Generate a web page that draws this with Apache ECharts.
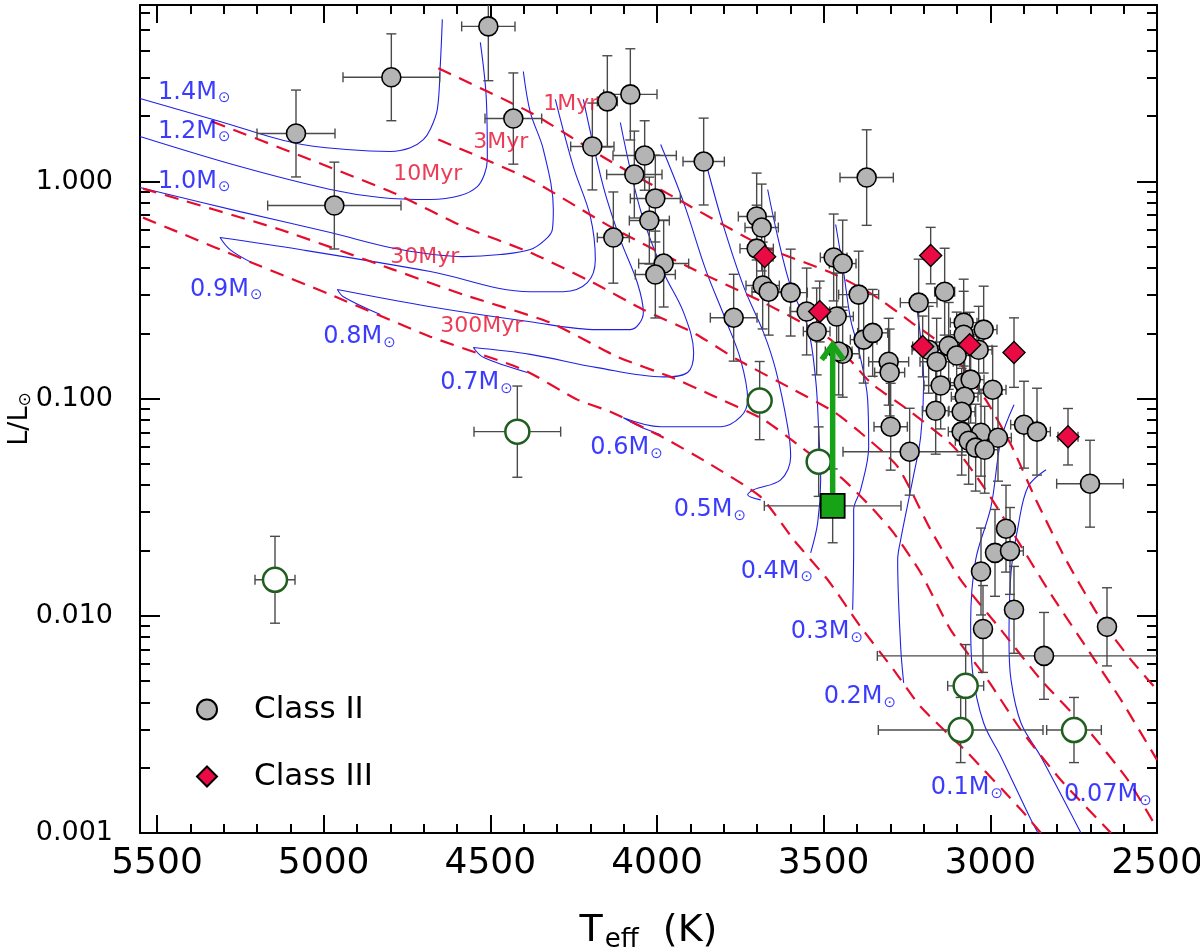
<!DOCTYPE html>
<html>
<head>
<meta charset="utf-8">
<script src="https://cdn.jsdelivr.net/npm/echarts@6/dist/echarts.min.js"></script>
<style>html,body{margin:0;padding:0;background:#fff}#c{width:1200px;height:951px}</style>
</head>
<body>
<div id="c"></div>
<script>
// ---------- axis ticks ----------
const xMajorTicks = [2500, 3000, 3500, 4000, 4500, 5000, 5500];
const xMinorTicks = [2600,2700,2800,2900,3100,3200,3300,3400,3600,3700,3800,3900,4100,4200,4300,4400,4600,4700,4800,4900,5100,5200,5300,5400];
const yMajorTicks = [0.001, 0.01, 0.1, 1];
const yMinorTicks = [0.002,0.003,0.004,0.005,0.006,0.007,0.008,0.009,0.02,0.03,0.04,0.05,0.06,0.07,0.08,0.09,0.2,0.3,0.4,0.5,0.6,0.7,0.8,0.9,2,3,4,5,6];

// ---------- evolutionary tracks [Teff, L/Lsun] ----------
const trackM140 = [[4644,5.58],[4650,3.46],[4659,2.15],[4680,1.74],[4701,1.56],[4740,1.43],[4800,1.375],[4920,1.40],[5092,1.51],[5311,1.89],[5551,2.41]];
const trackM120 = [[4530,4.37],[4512,2.39],[4509,1.263],[4518,1.077],[4539,0.948],[4590,0.862],[4680,0.826],[4830,0.844],[4980,0.919],[5251,1.172],[5551,1.612]];
const trackM100 = [[4401,3.21],[4380,2.08],[4341,1.404],[4311,0.743],[4314,0.601],[4335,0.540],[4380,0.486],[4470,0.461],[4581,0.451],[4770,0.486],[4980,0.582],[5251,0.727],[5551,0.938]];
const trackM090 = [[4305,2.39],[4251,1.172],[4200,0.690],[4185,0.437],[4209,0.342],[4281,0.311],[4380,0.311],[4680,0.385],[5071,0.486],[5311,0.552],[5281,0.486],[5215,0.423]];
const trackM080 = [[4221,2.39],[4161,0.948],[4110,0.540],[4059,0.342],[4041,0.249],[4080,0.208],[4179,0.208],[4380,0.226],[4680,0.265],[4959,0.318],[4941,0.295],[4830,0.244]];
const trackM070 = [[4110,1.87],[4050,0.743],[3980,0.381],[3920,0.249],[3890,0.163],[3908,0.132],[3980,0.126],[4179,0.139],[4380,0.160],[4551,0.172],[4521,0.155],[4389,0.132]];
const trackM060 = [[3989,1.48],[3920,0.800],[3854,0.393],[3794,0.231],[3749,0.151],[3728,0.099],[3749,0.0826],[3809,0.0743],[3989,0.0743],[4101,0.0817],[4050,0.0743],[3989,0.0683]];
const trackM050 = [[3848,1.136],[3800,0.620],[3740,0.328],[3680,0.201],[3644,0.136],[3608,0.0743],[3599,0.054],[3629,0.0423],[3710,0.0381],[3728,0.0361],[3689,0.0342]];
const trackM040 = [[3668,0.919],[3638,0.558],[3599,0.328],[3548,0.215],[3524,0.1224],[3515,0.072],[3509,0.0423],[3518,0.0268],[3539,0.0195]];
const trackM030 = [[3464,0.634],[3440,0.381],[3419,0.231],[3395,0.168],[3368,0.099],[3365,0.0601],[3389,0.0381],[3410,0.0308],[3410,0.0208],[3413,0.01066]];
const trackM020 = [[3224,0.286],[3200,0.1185],[3209,0.0668],[3233,0.0423],[3269,0.0224],[3278,0.0181],[3269,0.0072],[3260,0.00491]];
const trackM010 = [[2929,0.0938],[2968,0.0647],[2998,0.0318],[3044,0.0181],[3059,0.00929],[3053,0.00546],[3020,0.00321],[2968,0.00224],[2878,0.00115],[2857,0.001]];
const trackM007 = [[2833,0.0471],[2887,0.0393],[2917,0.0257],[2938,0.0158],[2944,0.00775],[2938,0.00507],[2908,0.00321],[2848,0.00224],[2728,0.001]];

// ---------- isochrones [Teff, L/Lsun] ----------
const iso1Myr = [[4656,3.32],[4380,2.08],[4149,1.263],[3920,0.800],[3680,0.502],[3479,0.381],[3353,0.3015],[3239,0.226],[3119,0.1647],[3014,0.099],[2938,0.0614],[2863,0.0342],[2773,0.0181],[2668,0.00959],[2578,0.00627],[2500,0.00456]];
const iso3Myr = [[4656,1.561],[4380,1.021],[4140,0.620],[3908,0.406],[3680,0.277],[3479,0.187],[3359,0.1185],[3239,0.0871],[3110,0.0601],[3020,0.0393],[2938,0.0249],[2827,0.0132],[2707,0.00697],[2608,0.0041],[2500,0.00217]];
const iso10Myr = [[5335,1.89],[5041,1.263],[4779,0.871],[4581,0.620],[4380,0.471],[4191,0.342],[4041,0.257],[3890,0.201],[3758,0.151],[3590,0.110],[3470,0.0871],[3389,0.0697],[3278,0.0486],[3179,0.0249],[3089,0.01466],[2968,0.00862],[2848,0.00507],[2707,0.00298],[2587,0.00175],[2500,0.00105]];
const iso30Myr = [[5542,0.928],[5131,0.601],[4791,0.393],[4581,0.3015],[4320,0.224],[4119,0.156],[3959,0.126],[3839,0.1043],[3680,0.080],[3569,0.0601],[3440,0.0423],[3359,0.0318],[3290,0.0241],[3209,0.0158],[3119,0.00862],[3008,0.00507],[2908,0.00298],[2788,0.00175],[2638,0.001]];
const iso300Myr = [[5542,0.682],[5440,0.588],[5215,0.423],[4980,0.3015],[4680,0.193],[4401,0.136],[4239,0.099],[4140,0.0871],[3980,0.0661],[3848,0.0507],[3689,0.0353],[3590,0.0224],[3488,0.01466],[3389,0.0089],[3290,0.00564],[3209,0.00381],[3068,0.00234],[2908,0.00128],[2848,0.001]];

// ---------- labels [text, Teff, L] ----------
const massLabels = [['1.4',5497,2.57],['1.2',5497,1.70],['1.0',5497,1.00],['0.9',5401,0.318],['0.8',5001,0.193],['0.7',4650,0.1185],['0.6',4200,0.0595],['0.5',3950,0.0308],['0.4',3749,0.0160],['0.3',3599,0.00844],['0.2',3500,0.00423],['0.1',3179,0.00161],['0.07',2779,0.00150]];
const ageLabels = [['1Myr',4341,2.26],['3Myr',4551,1.513],['10Myr',4791,1.077],['30Myr',4800,0.447],['300Myr',4650,0.215]];

// ---------- Class II ----------
const class2T = [5083,4797,4968,4506,4431,4194,4149,4080,4037,4068,4005,4023,4131,3980,4005,3860,3371,3701,3686,3701,3683,3665,3599,3770,3551,3461,3521,3470,3443,3395,3443,3455,3380,3353,3215,3305,3302,3299,3242,3137,3185,3161,3125,3101,3080,3080,3035,3020,3149,3164,3080,3059,3077,3086,2993,3086,3028,2977,3065,3044,3017,2899,2860,2701,2953,2986,2941,3028,2929,3022,2650,2839];
const class2L = [1.664,3.02,0.775,5.18,1.95,1.45,2.34,2.52,1.318,1.077,0.835,0.661,0.552,0.419,0.373,1.236,1.043,0.690,0.614,0.491,0.332,0.311,0.308,0.236,0.252,0.239,0.204,0.447,0.419,0.3015,0.161,0.165,0.187,0.201,0.277,0.148,0.132,0.0743,0.057,0.311,0.168,0.148,0.175,0.158,0.224,0.197,0.168,0.208,0.115,0.088,0.1185,0.1224,0.102,0.0871,0.110,0.0705,0.0697,0.0661,0.064,0.0595,0.0582,0.0759,0.0705,0.0406,0.0252,0.0195,0.0199,0.0160,0.01066,0.0087,0.0089,0.00654];
const class2Terr = [117,145,200,80,85,65,30,80,95,83,75,60,48,75,60,62,80,55,50,50,50,50,50,70,50,50,40,40,40,60,50,40,40,45,55,60,45,50,200,30,50,50,40,40,40,40,40,40,50,40,40,40,40,40,40,40,40,40,40,40,40,40,40,100,25,25,40,10,15,15,15,500];
const class2Lerr = [0.20,0.20,0.20,0.25,0.21,0.20,0.21,0.21,0.16,0.20,0.20,0.20,0.21,0.20,0.20,0.20,0.22,0.20,0.20,0.20,0.20,0.20,0.20,0.20,0.20,0.20,0.20,0.20,0.20,0.20,0.20,0.20,0.20,0.20,0.20,0.20,0.20,0.20,0.20,0.20,0.20,0.20,0.20,0.20,0.20,0.20,0.20,0.20,0.20,0.20,0.20,0.20,0.20,0.20,0.20,0.20,0.20,0.20,0.20,0.20,0.20,0.20,0.20,0.20,0.20,0.20,0.20,0.20,0.20,0.20,0.18,0.20];

// ---------- Class III ----------
const class3T = [3677,3512,3179,3203,3062,2929,2767];
const class3L = [0.451,0.252,0.456,0.174,0.177,0.163,0.0668];
const class3Terr = [25,30,20,30,30,15,30];
const class3Lerr = [0.13,0.14,0.13,0.14,0.15,0.16,0.13];

// ---------- other sources (open green circles) ----------
const otherT = [5146,4419,3692,3515,3074,3089,2749];
const otherL = [0.01466,0.0705,0.098,0.0513,0.00476,0.00298,0.00298];
const otherTerr = [60,130,0,25,54,247,82];
const otherLerr = [0.20,0.21,0.18,0.16,0.19,0.15,0.15];

// ---------- target (green square) and arrow ----------
const targetT = [3473];
const targetL = [0.0321];
const targetTerr = [205];
const targetLerr = [0.17];
const arrowTopL = [0.181];

// ================= build chart =================
const FONT = 'DejaVu Sans';
const BLUE = '#0a0aff';
const RED = '#e60c2c';
const zip = (a, b) => a.map((v, i) => [v, b[i]]);
const errRows = (T, L, dT, dL) => T.map((v, i) => [v, L[i], dT[i], dL[i]]);

const trackList = [trackM140, trackM120, trackM100, trackM090, trackM080, trackM070, trackM060, trackM050, trackM040, trackM030, trackM020, trackM010, trackM007];
const isoList = [iso1Myr, iso3Myr, iso10Myr, iso30Myr, iso300Myr];

const series = [];
trackList.forEach(t => series.push({
  type: 'line', data: t, showSymbol: false, smooth: 0.35, silent: true, z: 1,
  lineStyle: { color: '#2020e6', width: 1.1 }
}));
isoList.forEach(t => series.push({
  type: 'line', data: t, showSymbol: false, smooth: 0.2, silent: true, z: 2,
  lineStyle: { color: RED, width: 2.2, type: [14, 9] }
}));

const errData = [].concat(
  errRows(class2T, class2L, class2Terr, class2Lerr),
  errRows(class3T, class3L, class3Terr, class3Lerr),
  errRows(otherT, otherL, otherTerr, otherLerr),
  errRows(targetT, targetL, targetTerr, targetLerr)
);
series.push({
  type: 'custom', data: errData, z: 3, silent: true, clip: true,
  renderItem: function (params, api) {
    const T = api.value(0), L = api.value(1), dT = api.value(2), dL = api.value(3);
    const st = { stroke: '#4a4a4a', lineWidth: 1.4 };
    const ch = [];
    const cap = 5;
    if (dT > 0) {
      const a = api.coord([T + dT, L]), b = api.coord([T - dT, L]);
      ch.push({ type: 'line', shape: { x1: a[0], y1: a[1], x2: b[0], y2: b[1] }, style: st });
      ch.push({ type: 'line', shape: { x1: a[0], y1: a[1] - cap, x2: a[0], y2: a[1] + cap }, style: st });
      ch.push({ type: 'line', shape: { x1: b[0], y1: b[1] - cap, x2: b[0], y2: b[1] + cap }, style: st });
    }
    if (dL > 0) {
      const f = Math.pow(10, dL);
      const a = api.coord([T, L * f]), b = api.coord([T, L / f]);
      ch.push({ type: 'line', shape: { x1: a[0], y1: a[1], x2: b[0], y2: b[1] }, style: st });
      ch.push({ type: 'line', shape: { x1: a[0] - cap, y1: a[1], x2: a[0] + cap, y2: a[1] }, style: st });
      ch.push({ type: 'line', shape: { x1: b[0] - cap, y1: b[1], x2: b[0] + cap, y2: b[1] }, style: st });
    }
    return { type: 'group', children: ch };
  }
});

series.push({
  name: 'Others', type: 'scatter', data: zip(otherT, otherL), symbol: 'circle', symbolSize: 24, z: 5,
  itemStyle: { color: '#ffffff', borderColor: '#1f5e1f', borderWidth: 2.5, opacity: 1 }
});
series.push({
  name: 'Class II', type: 'scatter', data: zip(class2T, class2L), symbol: 'circle', symbolSize: 19, z: 6,
  itemStyle: { color: '#b4b4b4', borderColor: '#000', borderWidth: 1.6, opacity: 1 }
});
series.push({
  name: 'Class III', type: 'scatter', data: zip(class3T, class3L), symbol: 'diamond', symbolSize: 22, z: 7,
  itemStyle: { color: '#ea0a44', borderColor: '#000', borderWidth: 1.4, opacity: 1 }
});

// green arrow (line + open chevron head)
series.push({
  type: 'custom', z: 8, silent: true, clip: true,
  data: [[targetT[0], targetL[0], arrowTopL[0]]],
  renderItem: function (params, api) {
    const b = api.coord([api.value(0), api.value(1)]);
    const t = api.coord([api.value(0), api.value(2)]);
    const st = { stroke: '#17a317', lineWidth: 5.5, fill: 'none', lineCap: 'butt', lineJoin: 'miter' };
    return { type: 'group', children: [
      { type: 'line', shape: { x1: b[0], y1: b[1], x2: t[0], y2: t[1] + 2 }, style: st },
      { type: 'polyline', shape: { points: [[t[0] - 11, t[1] + 17], [t[0], t[1] + 2], [t[0] + 11, t[1] + 17]] }, style: st }
    ] };
  }
});

series.push({
  name: 'Target', type: 'scatter', data: zip(targetT, targetL), symbol: 'rect', symbolSize: 24, z: 9,
  itemStyle: { color: '#16a416', borderColor: '#000', borderWidth: 1.8, opacity: 1 }
});

series.push({
  type: 'scatter', z: 10, silent: true, symbolSize: 0,
  data: massLabels.map(m => ({ name: m[0], value: [m[1], m[2]] })),
  label: {
    show: true, position: 'right', distance: 0,
    formatter: p => '{a|' + p.name + 'M}{s|\u2299}',
    rich: {
      a: { fontFamily: FONT, fontSize: 24, color: BLUE },
      s: { fontFamily: FONT, fontSize: 15, color: BLUE, padding: [12, 0, 0, 1] }
    }
  }
});
series.push({
  type: 'scatter', z: 10, silent: true, symbolSize: 0,
  data: ageLabels.map(m => ({ name: m[0], value: [m[1], m[2]] })),
  label: {
    show: true, position: 'right', distance: 0,
    formatter: p => p.name,
    fontFamily: FONT, fontSize: 22, color: RED
  }
});

const xBase = { type: 'value', min: 2500, max: 5551, inverse: true, splitLine: { show: false } };
const yBase = { type: 'log', logBase: 10, min: 0.001, max: 6.5, splitLine: { show: false } };
const axLine = { show: true, onZero: false, lineStyle: { color: '#000', width: 2 } };
const tickStyle = { color: '#000', width: 2 };

const option = {
  animation: false,
  backgroundColor: '#fff',
  grid: { left: 140, right: 43, top: 5, bottom: 118, containLabel: false, outerBoundsMode: 'none' },
  legend: {
    data: ['Class II', 'Class III'], orient: 'vertical', left: 191, top: 689,
    itemWidth: 20, itemHeight: 20, itemGap: 36,
    textStyle: { fontFamily: FONT, fontSize: 31, color: '#000', padding: [0, 0, 0, 32] }
  },
  xAxis: [
    Object.assign({}, xBase, {
      position: 'bottom', axisLine: axLine,
      axisTick: { show: true, inside: true, length: 18, customValues: xMajorTicks, lineStyle: tickStyle },
      axisLabel: { show: true, customValues: xMajorTicks, fontFamily: FONT, fontSize: 36, color: '#000', margin: 13,
        formatter: v => String(Math.round(v)) },
      name: '{a|T}{b|eff}{a|  (K)}', nameLocation: 'middle', nameGap: 76, nameMoveOverlap: false,
      nameTextStyle: { rich: { a: { fontFamily: FONT, fontSize: 38, color: '#000' }, b: { fontFamily: FONT, fontSize: 26, color: '#000', padding: [18, 0, 0, 2] } } }
    }),
    Object.assign({}, xBase, {
      position: 'bottom', axisLine: { show: false },
      axisTick: { show: true, inside: true, length: 9, customValues: xMinorTicks, lineStyle: tickStyle },
      axisLabel: { show: false }
    }),
    Object.assign({}, xBase, {
      position: 'top', axisLine: axLine,
      axisTick: { show: true, inside: true, length: 18, customValues: xMajorTicks, lineStyle: tickStyle },
      axisLabel: { show: false }
    }),
    Object.assign({}, xBase, {
      position: 'top', axisLine: { show: false },
      axisTick: { show: true, inside: true, length: 9, customValues: xMinorTicks, lineStyle: tickStyle },
      axisLabel: { show: false }
    })
  ],
  yAxis: [
    Object.assign({}, yBase, {
      position: 'left', axisLine: axLine,
      axisTick: { show: true, inside: true, length: 20, customValues: yMajorTicks, lineStyle: tickStyle },
      axisLabel: { show: true, customValues: yMajorTicks, fontFamily: FONT, fontSize: 27, color: '#000', margin: 27,
        formatter: v => Number(v).toFixed(3) },
      name: '{a|L/L}{s|\u2299}', nameLocation: 'middle', nameGap: 106, nameRotate: 90, nameMoveOverlap: false,
      nameTextStyle: { rich: { a: { fontFamily: FONT, fontSize: 27, color: '#000' }, s: { fontFamily: FONT, fontSize: 17, color: '#000', padding: [12, 0, 0, 0] } } }
    }),
    Object.assign({}, yBase, {
      position: 'left', axisLine: { show: false },
      axisTick: { show: true, inside: true, length: 10, customValues: yMinorTicks, lineStyle: tickStyle },
      axisLabel: { show: false }
    }),
    Object.assign({}, yBase, {
      position: 'right', axisLine: axLine,
      axisTick: { show: true, inside: true, length: 20, customValues: yMajorTicks, lineStyle: tickStyle },
      axisLabel: { show: false }
    }),
    Object.assign({}, yBase, {
      position: 'right', axisLine: { show: false },
      axisTick: { show: true, inside: true, length: 10, customValues: yMinorTicks, lineStyle: tickStyle },
      axisLabel: { show: false }
    })
  ],
  series: series
};

const chart = echarts.init(document.getElementById('c'), null, { renderer: 'canvas' });
chart.setOption(option);
</script>
</body>
</html>
